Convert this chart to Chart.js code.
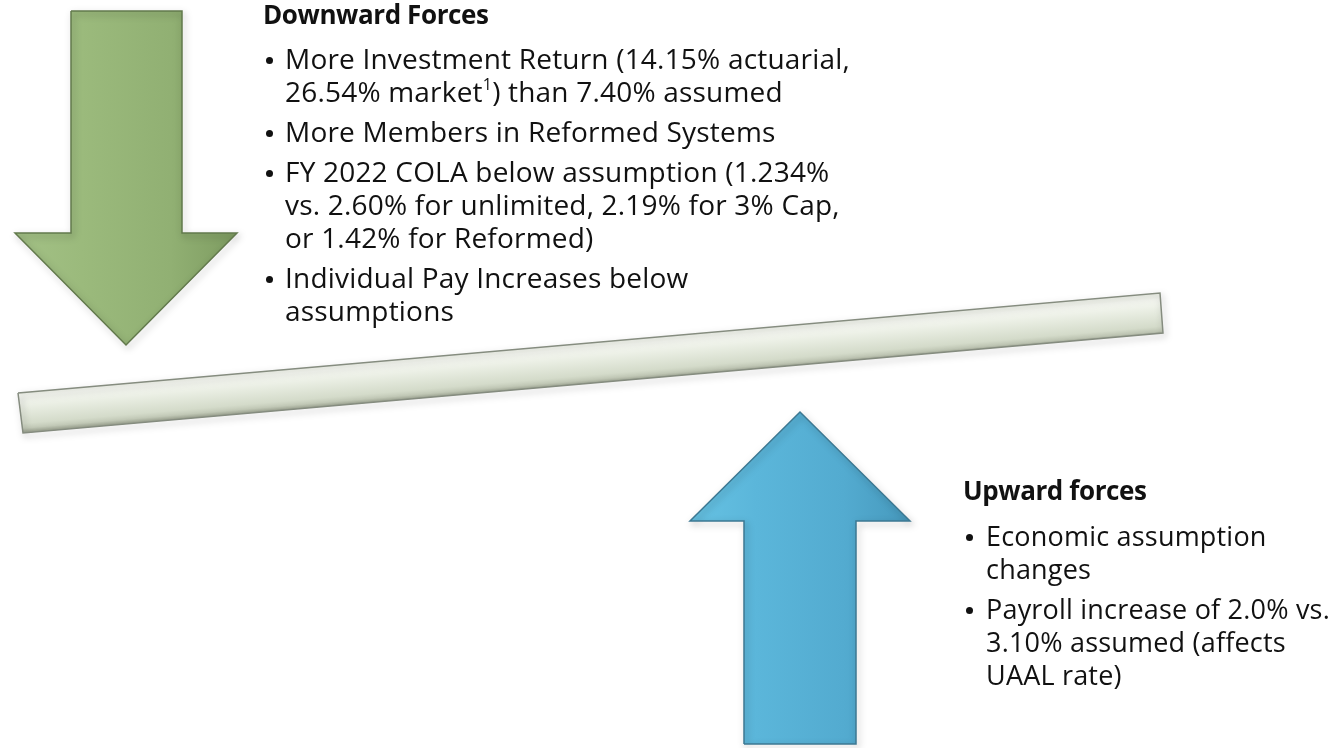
<!DOCTYPE html>
<html>
<head>
<meta charset="utf-8">
<script src="https://cdn.jsdelivr.net/npm/chart.js@4.4.1/dist/chart.umd.min.js"></script>
<style>
    html, body { margin: 0; padding: 0; background: #fff; }
    #wrap { position: relative; width: 1340px; height: 748px; overflow: hidden; }
    #chart { position: absolute; left: 0; top: 0; }
    .block { position: absolute; font-family: "Open Sans", "Noto Sans", sans-serif; color: #111; white-space: nowrap; }
    .block h3 { margin: 0; font-size: 26px; font-weight: bold; line-height: 30px; letter-spacing: -0.4px; }
    .block ul { list-style: none; margin: 0; padding: 0; }
    .block li { position: relative; padding-left: 22px; font-size: 28px; line-height: 33px; margin-top: 7px; letter-spacing: 0.2px; }
    #up li { font-size: 27px; padding-left: 23px; }
    .block li::before { content: ""; position: absolute; left: 3px; top: 15px; width: 7px; height: 7px; border-radius: 50%; background: #111; }
    .block sup { font-size: 16px; line-height: 0; position: relative; top: -2px; }
</style>
</head>
<body>
<div id="wrap">
    <canvas id="chart" width="1340" height="748"></canvas>
    <div class="block" id="down" style="left:263px; top:-1px;">
        <h3 id="downTitle"></h3>
        <ul id="downList" style="margin-top:13px;"></ul>
    </div>
    <div class="block" id="up" style="left:963px; top:475px;">
        <h3 id="upTitle"></h3>
        <ul id="upList" style="margin-top:14px;"></ul>
    </div>
</div>
<script>
// shape outlines, in page units (x right, y down)
const downArrowX = [71, 182, 182, 237, 126, 15, 71, 71];
const downArrowY = [11, 11, 233, 233, 345, 233, 233, 11];

const upArrowX = [744, 744, 690, 800, 910, 856, 856, 744];
const upArrowY = [744, 521, 521, 412, 521, 521, 744, 744];

const beamX = [18, 1160, 1163, 23, 18];
const beamY = [393, 293, 333, 433, 393];

// texts
const downTitle = 'Downward Forces';
const downItems = [
    'More Investment Return (14.15% actuarial,<br>26.54% market<sup>1</sup>) than 7.40% assumed',
    'More Members in Reformed Systems',
    'FY 2022 COLA below assumption (1.234%<br>vs. 2.60% for unlimited, 2.19% for 3% Cap,<br>or 1.42% for Reformed)',
    'Individual Pay Increases below<br>assumptions'
];
const upTitle = 'Upward forces';
const upItems = [
    'Economic assumption<br>changes',
    'Payroll increase of 2.0% vs.<br>3.10% assumed (affects<br>UAAL rate)'
];

document.getElementById('downTitle').textContent = downTitle;
document.getElementById('upTitle').textContent = upTitle;
document.getElementById('downList').innerHTML = downItems.map(t => '<li>' + t + '</li>').join('');
document.getElementById('upList').innerHTML = upItems.map(t => '<li>' + t + '</li>').join('');

const toPoints = (xs, ys) => xs.map((x, i) => ({ x: x, y: ys[i] }));

// gradient helper, coordinates given in data units
function gradient(context, x0, y0, x1, y1, stops) {
    const chart = context.chart;
    const sx = chart.scales.x, sy = chart.scales.y;
    if (!sx || !sy || !chart.chartArea) return stops[0][1];
    const g = chart.ctx.createLinearGradient(
        sx.getPixelForValue(x0), sy.getPixelForValue(y0),
        sx.getPixelForValue(x1), sy.getPixelForValue(y1));
    stops.forEach(s => g.addColorStop(s[0], s[1]));
    return g;
}

// soft drop shadow under each shape
const shadowPlugin = {
    id: 'shadow',
    beforeDatasetDraw(chart) {
        const ctx = chart.ctx;
        ctx.save();
        ctx.shadowColor = 'rgba(0,0,0,0.35)';
        ctx.shadowBlur = 7;
        ctx.shadowOffsetX = 2;
        ctx.shadowOffsetY = 3;
    },
    afterDatasetDraw(chart) {
        chart.ctx.restore();
    }
};

const shapeDefaults = {
    showLine: true,
    fill: 'shape',
    tension: 0,
    pointRadius: 0,
    borderWidth: 1.5,
    borderJoinStyle: 'miter'
};

new Chart(document.getElementById('chart'), {
    type: 'scatter',
    data: {
        datasets: [
            Object.assign({}, shapeDefaults, {
                label: 'beam',
                data: toPoints(beamX, beamY),
                borderColor: '#858c7f',
                // across the beam, perpendicular to its slope
                backgroundColor: ctx => gradient(ctx, 588.3, 343.1, 591.7, 382.9, [
                    [0, '#eef1e8'], [0.12, '#f7f9f3'], [0.45, '#e6ebdf'],
                    [0.8, '#d4dbca'], [0.92, '#c2c9b7'], [1, '#a3aa98']
                ])
            }),
            Object.assign({}, shapeDefaults, {
                label: 'down',
                data: toPoints(downArrowX, downArrowY),
                borderColor: '#62794c',
                backgroundColor: ctx => gradient(ctx, 15, 0, 237, 0, [
                    [0, '#a3c186'], [0.3, '#9bba7c'], [0.7, '#91b073'], [1, '#7e9c61']
                ])
            }),
            Object.assign({}, shapeDefaults, {
                label: 'up',
                data: toPoints(upArrowX, upArrowY),
                borderColor: '#3c7892',
                backgroundColor: ctx => gradient(ctx, 690, 0, 910, 0, [
                    [0, '#66c2e3'], [0.3, '#5bb6da'], [0.7, '#53abd0'], [1, '#4699bd']
                ])
            })
        ]
    },
    options: {
        responsive: false,
        animation: false,
        layout: { padding: 0 },
        plugins: {
            legend: { display: false },
            tooltip: { enabled: false }
        },
        scales: {
            x: { type: 'linear', min: 0, max: 1340, display: false },
            y: { type: 'linear', min: 0, max: 748, reverse: true, display: false }
        }
    },
    plugins: [shadowPlugin]
});
</script>
</body>
</html>
